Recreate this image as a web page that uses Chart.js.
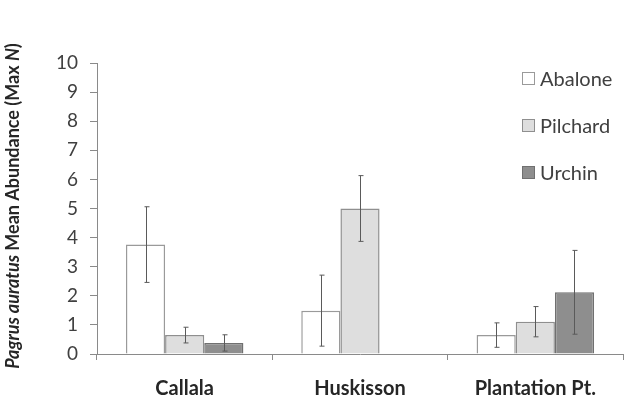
<!DOCTYPE html>
<html>
<head>
<meta charset="utf-8">
<script src="https://cdn.jsdelivr.net/npm/chart.js@4"></script>
<style>
html,body{margin:0;padding:0;background:#fff;}
#wrap{width:624px;height:409px;position:relative;}
</style>
</head>
<body>
<div id="wrap"><canvas id="c" width="624" height="409"></canvas></div>
<script>
const categories = ["Callala", "Huskisson", "Plantation Pt."];
const seriesNames = ["Abalone", "Pilchard", "Urchin"];
const abalone = [3.76, 1.49, 0.65];
const pilchard = [0.65, 5.0, 1.11];
const urchin = [0.38, 0, 2.12];
const abaloneErr = [1.3, 1.22, 0.42];
const pilchardErr = [0.27, 1.13, 0.52];
const urchinErr = [0.28, 0, 1.44];
const yTicks = [0,1,2,3,4,5,6,7,8,9,10];

const FONT = "Lato, 'Open Sans', sans-serif";
const fills = ["#ffffff", "#dedede", "#8e8e8e"];
const borders = ["#9a9a9a", "#8f8f8f", "#707070"];
const values = [abalone, pilchard, urchin];
const errs = [abaloneErr, pilchardErr, urchinErr];

const errorBars = {
  id: 'errorBars',
  afterDatasetsDraw(chart) {
    const ctx = chart.ctx;
    const y = chart.scales.y;
    ctx.save();
    ctx.strokeStyle = '#5a5a5a';
    ctx.lineWidth = 1;
    chart.data.datasets.forEach((ds, di) => {
      const meta = chart.getDatasetMeta(di);
      meta.data.forEach((bar, i) => {
        const e = ds.err[i];
        if (!e) return;
        const v = ds.data[i];
        const x = Math.round(bar.x) + 0.5;
        const yt = y.getPixelForValue(v + e);
        const yb = y.getPixelForValue(Math.max(v - e, 0));
        ctx.beginPath();
        ctx.moveTo(x, yt); ctx.lineTo(x, yb);
        ctx.moveTo(x - 2, yt); ctx.lineTo(x + 3, yt);
        ctx.moveTo(x - 2, yb); ctx.lineTo(x + 3, yb);
        ctx.stroke();
      });
    });
    ctx.restore();
  }
};

const extras = {
  id: 'extras',
  afterDraw(chart) {
    const ctx = chart.ctx;
    ctx.save();
    // legend
    ctx.font = "20px " + FONT;
    ctx.textBaseline = 'middle';
    ctx.textAlign = 'left';
    const ly = [79, 126, 173];
    chart.data.datasets.forEach((ds, i) => {
      ctx.fillStyle = ds.backgroundColor;
      ctx.fillRect(522.5, ly[i] - 6.5, 12, 12);
      ctx.strokeStyle = ds.borderColor;
      ctx.lineWidth = 1;
      ctx.strokeRect(522.5, ly[i] - 6.5, 12, 12);
      ctx.fillStyle = '#404040';
      ctx.fillText(ds.label, 540, ly[i] + 1);
    });
    // y title with mixed italic
    const parts = [
      ["Pagrus auratus", true],
      [" Mean Abundance (Max ", false],
      ["N", true],
      [")", false]
    ];
    const size = 18;
    const fontOf = it => (it ? "italic " : "") + "bold " + size + "px " + FONT;
    let total = 0;
    parts.forEach(p => { ctx.font = fontOf(p[1]); total += ctx.measureText(p[0]).width; });
    ctx.translate(13, 206);
    ctx.rotate(-Math.PI / 2);
    let x = -total / 2;
    ctx.fillStyle = '#262626';
    ctx.textBaseline = 'middle';
    parts.forEach(p => {
      ctx.font = fontOf(p[1]);
      ctx.fillText(p[0], x, 0);
      x += ctx.measureText(p[0]).width;
    });
    ctx.restore();
  }
};

new Chart(document.getElementById('c'), {
  type: 'bar',
  data: {
    labels: categories,
    datasets: seriesNames.map((n, i) => ({
      label: n,
      data: values[i],
      err: errs[i],
      backgroundColor: fills[i],
      borderColor: borders[i],
      borderWidth: 1.5,
      categoryPercentage: 0.67,
      barPercentage: 1.0
    }))
  },
  options: {
    responsive: false,
    animation: false,
    devicePixelRatio: 1,
    layout: { padding: { top: 63, right: 1, left: 0, bottom: 0 } },
    plugins: { legend: { display: false }, tooltip: { enabled: false } },
    scales: {
      x: {
        grid: { display: true, drawOnChartArea: false, offset: true, tickLength: 6, color: '#8a8a8a' },
        border: { color: '#8a8a8a', width: 1 },
        ticks: { font: { family: FONT, size: 20, weight: 'bold' }, color: '#262626', padding: 17 },
        afterFit(s) { s.height = 55; }
      },
      y: {
        min: 0, max: 10,
        afterBuildTicks(s) { s.ticks = yTicks.map(v => ({ value: v })); },
        grid: { display: true, drawOnChartArea: false, tickLength: 7, color: '#8a8a8a' },
        border: { color: '#8a8a8a', width: 1 },
        ticks: { font: { family: FONT, size: 19 }, color: '#404040', padding: 12 },
        afterFit(s) { s.width = 97; }
      }
    }
  },
  plugins: [errorBars, extras]
});
</script>
</body>
</html>
